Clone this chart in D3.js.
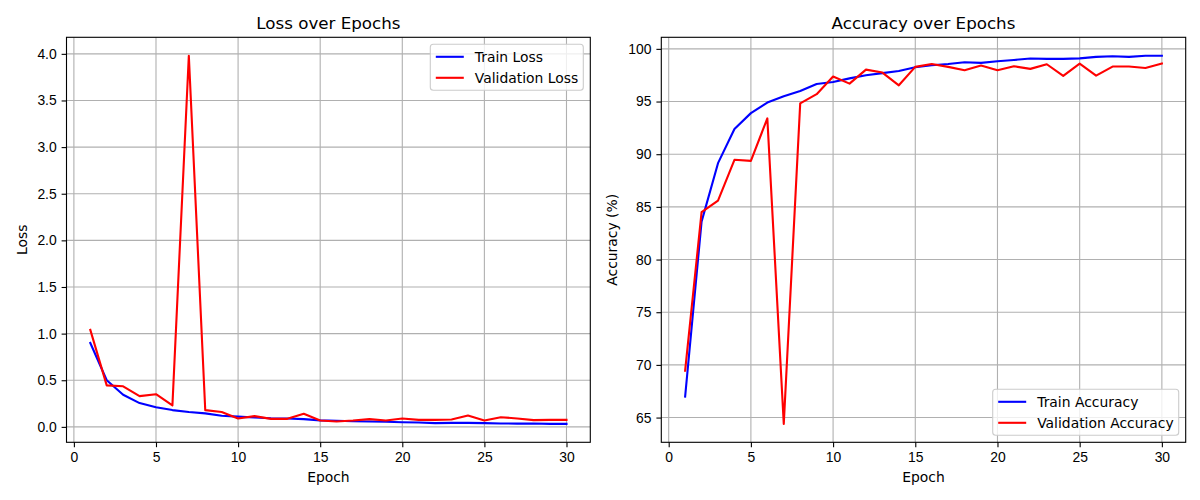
<!DOCTYPE html>
<html lang="en">
<head>
<meta charset="UTF-8">
<title>Loss and Accuracy over Epochs</title>
<script src="https://d3js.org/d3.v7.min.js"></script>
<style>
    body { margin: 0; background: #fff; }
    svg { display: block; font-family: "DejaVu Sans", sans-serif; }
    .tick text { font-size: 13.9px; fill: #000; }
    .tick line { stroke: #000; stroke-width: 1.1; }
    .grid line { stroke: #b0b0b0; stroke-width: 1.1; }
    .frame { fill: none; stroke: #000; stroke-width: 1.1; }
    .title { font-size: 16.7px; }
    .label { font-size: 13.9px; }
    .legend text { font-size: 13.9px; }
</style>
</head>
<body>
<svg id="chart" width="1200" height="500"></svg>
<script>
    const epochs = d3.range(1, 31);
    const trainLoss = [0.90, 0.50, 0.345, 0.255, 0.21, 0.18, 0.16, 0.145, 0.12, 0.11,
        0.10, 0.093, 0.09, 0.083, 0.07, 0.065, 0.06, 0.058, 0.055, 0.05,
        0.047, 0.04, 0.043, 0.043, 0.04, 0.036, 0.035, 0.036, 0.032, 0.032];
    const valLoss = [1.04, 0.445, 0.435, 0.33, 0.35, 0.23, 3.98, 0.18, 0.16, 0.09,
        0.115, 0.086, 0.086, 0.14, 0.068, 0.058, 0.068, 0.083, 0.068, 0.09,
        0.075, 0.075, 0.079, 0.122, 0.068, 0.104, 0.09, 0.072, 0.075, 0.075];
    const trainAcc = [67.0, 83.6, 89.15, 92.4, 93.9, 94.9, 95.5, 96.0, 96.67, 96.86,
        97.2, 97.5, 97.7, 97.9, 98.25, 98.45, 98.57, 98.73, 98.67, 98.83,
        98.95, 99.08, 99.05, 99.05, 99.1, 99.24, 99.3, 99.24, 99.35, 99.35];
    const valAcc = [69.45, 84.5, 85.6, 89.47, 89.37, 93.4, 64.4, 94.83, 95.7, 97.37,
        96.7, 98.03, 97.75, 96.54, 98.29, 98.57, 98.29, 97.97, 98.41, 97.97,
        98.35, 98.1, 98.54, 97.43, 98.6, 97.46, 98.32, 98.32, 98.19, 98.6];
    const xTicks = [0, 5, 10, 15, 20, 25, 30];
    const lossTicks = [0, 0.5, 1.0, 1.5, 2.0, 2.5, 3.0, 3.5, 4.0];
    const accTicks = [65, 70, 75, 80, 85, 90, 95, 100];

    const svg = d3.select("#chart");
    const plotTop = 37.3, plotBottom = 442.3;

    // matplotlib-style 5% padding around the data
    function padded(values) {
        const [lo, hi] = d3.extent(values);
        const m = (hi - lo) * 0.05;
        return [lo - m, hi + m];
    }

    function panel(opts) {
        const g = svg.append("g");
        const x = d3.scaleLinear().domain(padded(epochs)).range([opts.left, opts.right]);
        const y = d3.scaleLinear().domain(padded(opts.series[0].values.concat(opts.series[1].values)))
            .range([plotBottom, plotTop]);

        // grid
        const grid = g.append("g").attr("class", "grid");
        grid.selectAll(".gx").data(opts.xTicks).join("line")
            .attr("class", "gx")
            .attr("x1", d => x(d)).attr("x2", d => x(d))
            .attr("y1", plotTop).attr("y2", plotBottom);
        grid.selectAll(".gy").data(opts.yTicks).join("line")
            .attr("class", "gy")
            .attr("x1", opts.left).attr("x2", opts.right)
            .attr("y1", d => y(d)).attr("y2", d => y(d));

        // lines
        const line = d3.line().x((d, i) => x(epochs[i])).y(d => y(d));
        opts.series.forEach(s => {
            g.append("path")
                .attr("d", line(s.values))
                .attr("fill", "none")
                .attr("stroke", s.color)
                .attr("stroke-width", 2.1)
                .attr("stroke-linejoin", "round")
                .attr("stroke-linecap", "square");
        });

        // axes
        const xa = g.append("g").attr("transform", `translate(0,${plotBottom})`)
            .call(d3.axisBottom(x).tickValues(opts.xTicks).tickSize(4.9).tickPadding(4.9).tickFormat(d3.format("d")));
        const ya = g.append("g").attr("transform", `translate(${opts.left},0)`)
            .call(d3.axisLeft(y).tickValues(opts.yTicks).tickSize(4.9).tickPadding(4.9).tickFormat(opts.yFormat));
        [xa, ya].forEach(a => a.select(".domain").remove());

        g.append("rect").attr("class", "frame")
            .attr("x", opts.left).attr("y", plotTop)
            .attr("width", opts.right - opts.left).attr("height", plotBottom - plotTop);

        const cx = (opts.left + opts.right) / 2;
        g.append("text").attr("class", "title")
            .attr("x", cx).attr("y", 29).attr("text-anchor", "middle").text(opts.title);
        g.append("text").attr("class", "label")
            .attr("x", cx).attr("y", 482).attr("text-anchor", "middle").text("Epoch");
        g.append("text").attr("class", "label")
            .attr("transform", `translate(${opts.ylabelX},${(plotTop + plotBottom) / 2}) rotate(-90)`)
            .attr("text-anchor", "middle").text(opts.ylabel);

        // legend
        const lg = g.append("g").attr("class", "legend");
        const lx = opts.right - 7 - opts.legendW;
        const ly = opts.legendTop ? plotTop + 7 : plotBottom - 7 - 46;
        lg.append("rect")
            .attr("x", lx).attr("y", ly).attr("width", opts.legendW).attr("height", 46)
            .attr("rx", 3).attr("fill", "#fff").attr("fill-opacity", 0.8)
            .attr("stroke", "#cccccc").attr("stroke-width", 1.1);
        opts.series.forEach((s, i) => {
            const yy = ly + 12.5 + i * 21;
            lg.append("line")
                .attr("x1", lx + 5.5).attr("x2", lx + 33.5)
                .attr("y1", yy).attr("y2", yy)
                .attr("stroke", s.color).attr("stroke-width", 2.1);
            lg.append("text")
                .attr("x", lx + 44.5).attr("y", yy + 5).text(s.name);
        });
    }

    panel({
        left: 66.5, right: 590.3, title: "Loss over Epochs", ylabel: "Loss", ylabelX: 26.8,
        xTicks: xTicks, yTicks: lossTicks, yFormat: d3.format(".1f"),
        legendTop: true, legendW: 153,
        series: [
            { name: "Train Loss", values: trainLoss, color: "blue" },
            { name: "Validation Loss", values: valLoss, color: "red" }
        ]
    });

    panel({
        left: 661.3, right: 1185.7, title: "Accuracy over Epochs", ylabel: "Accuracy (%)", ylabelX: 616.8,
        xTicks: xTicks, yTicks: accTicks, yFormat: d3.format("d"),
        legendTop: false, legendW: 186,
        series: [
            { name: "Train Accuracy", values: trainAcc, color: "blue" },
            { name: "Validation Accuracy", values: valAcc, color: "red" }
        ]
    });
</script>
</body>
</html>
